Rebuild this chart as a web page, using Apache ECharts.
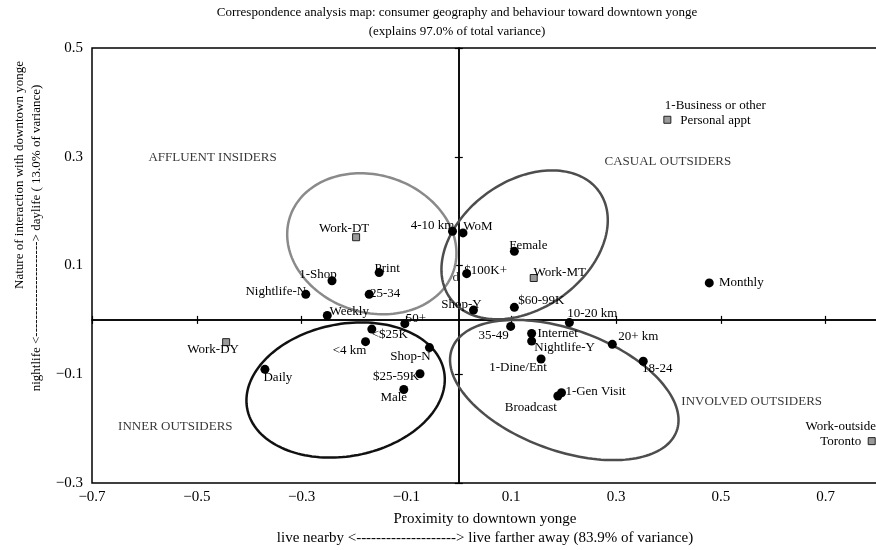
<!DOCTYPE html>
<html>
<head>
<meta charset="utf-8">
<script src="https://cdn.jsdelivr.net/npm/echarts@6/dist/echarts.min.js"></script>
<style>
  html, body { margin: 0; padding: 0; background: #fff; }
  #chart { width: 876px; height: 550px; }
</style>
</head>
<body>
<div id="chart"></div>
<script>
// categories shown as black dots
const dotNames = ['Print', '1-Shop', 'Nightlife-N', '25-34', 'Weekly', '50+', '<$25K', '<4 km',
  'Shop-N', '$25-59K', 'Male', 'Daily', '4-10 km', 'WoM', 'Female', '$100K+', 'Shop-Y',
  '$60-99K', '10-20 km', '35-49', 'Internet', 'Nightlife-Y', '1-Dine/Ent', '20+ km', '18-24',
  '1-Gen Visit', 'Broadcast', 'Monthly'];
const dotX = [-0.152, -0.242, -0.292, -0.171, -0.251, -0.103, -0.166, -0.178,
  -0.056, -0.074, -0.105, -0.370, -0.012, 0.008, 0.106, 0.015, 0.028,
  0.106, 0.211, 0.099, 0.139, 0.139, 0.157, 0.293, 0.352,
  0.196, 0.189, 0.478];
const dotY = [0.087, 0.072, 0.047, 0.047, 0.008, -0.007, -0.017, -0.040,
  -0.051, -0.099, -0.128, -0.091, 0.163, 0.160, 0.126, 0.085, 0.018,
  0.023, -0.005, -0.012, -0.025, -0.039, -0.072, -0.045, -0.076,
  -0.134, -0.140, 0.068];

// place-of-work categories, grey squares
const squareNames = ['Work-DT', 'Work-MT', 'Work-DY', '1-Business or other\nPersonal appt', 'Work-outside\nToronto'];
const squareX = [-0.196, 0.143, -0.444, 0.398, 0.788];
const squareY = [0.152, 0.077, -0.041, 0.368, -0.223];

// segment names and where they sit
const groupNames = ['AFFLUENT INSIDERS', 'CASUAL OUTSIDERS', 'INNER OUTSIDERS', 'INVOLVED OUTSIDERS', 'd'];
const groupX = [-0.470, 0.399, -0.541, 0.559, -0.006];
const groupY = [0.298, 0.292, -0.196, -0.150, 0.077];

// segment ellipses: centre, semi axes (axis units), tilt in degrees
const ellipseX = [-0.166, 0.1256, -0.216, 0.2013];
const ellipseY = [0.140, 0.138, -0.129, -0.129];
const ellipseRx = [0.1644, 0.1748, 0.1912, 0.2283];
const ellipseRy = [0.1262, 0.1173, 0.1215, 0.1112];
const ellipseTilt = [18, -35.7, -10.85, 20.1];

const xTickLabels = ['\u22120.7', '\u22120.5', '\u22120.3', '\u22120.1', '0.1', '0.3', '0.5', '0.7'];
const yTickLabels = ['\u22120.3', '\u22120.1', '0.1', '0.3', '0.5'];

// label placement
const dotLabelOffset = [[8, -4], [-14, -6], [-30, -3], [16, -1], [22, -4], [11, -5], [18, 5], [-16, 9],
  [-19, 9], [-24, 3], [-10, 8], [13, 8], [-20, -6], [15, -6], [14, -6], [19, -3], [-12, -6],
  [27, -7], [23, -9], [-17, 9], [26, 0], [33, 6], [-23, 9], [26, -8], [14, 7],
  [34, -1], [-27, 12], [32, 0]];
const squareLabelOffset = [[-12, -9], [26, -5], [-13, 7], [48, -7], [-31, -7]];
const ellipseColors = ['#8a8a8a', '#4d4d4d', '#111111', '#4d4d4d'];

const FONT = "'Liberation Serif', 'DejaVu Serif', serif";

function tickFmt(labels, min) {
  return function (v) {
    const i = Math.round((v - min) / 0.2);
    if (Math.abs(min + i * 0.2 - v) > 1e-6) return '';
    return labels[i] || '';
  };
}

const chart = echarts.init(document.getElementById('chart'));

const zeroAxisX = (pos) => ({
  type: 'value', min: -0.7, max: 0.8, interval: 0.2, position: pos,
  axisLine: { show: true, onZero: true, onZeroAxisIndex: 0, lineStyle: { color: '#000', width: 1.5 } },
  axisTick: { show: true, length: 4, lineStyle: { color: '#000', width: 1.2 } },
  axisLabel: { show: false },
  splitLine: { show: false }
});
const zeroAxisY = (pos) => ({
  type: 'value', min: -0.3, max: 0.5, interval: 0.2, position: pos,
  axisLine: { show: true, onZero: true, onZeroAxisIndex: 0, lineStyle: { color: '#000', width: 1.5 } },
  axisTick: { show: true, length: 4, lineStyle: { color: '#000', width: 1.2 } },
  axisLabel: { show: false },
  splitLine: { show: false }
});

const nameStyle = { fontFamily: FONT, fontSize: 13, fill: '#000', align: 'center', verticalAlign: 'middle' };

chart.setOption({
  animation: false,
  backgroundColor: '#fff',
  title: {
    text: 'Correspondence analysis map: consumer geography and behaviour toward downtown yonge\n(explains 97.0% of total variance)',
    left: 457,
    top: 3,
    padding: 0,
    textAlign: 'center',
    textStyle: { fontFamily: FONT, fontSize: 13, fontWeight: 'normal', color: '#000', lineHeight: 19 }
  },
  // vertical axis title, two separately centred lines
  graphic: [
    { type: 'text', x: 20, y: 175, rotation: Math.PI / 2,
      style: Object.assign({ text: 'Nature of interaction with downtown yonge' }, nameStyle) },
    { type: 'text', x: 37, y: 238, rotation: Math.PI / 2,
      style: Object.assign({ text: 'nightlife <----------------------> daylife ( 13.0% of variance)' }, nameStyle) }
  ],
  grid: {
    left: 92, right: -2, top: 48, bottom: 67,
    show: true, borderColor: '#000', borderWidth: 1.5,
    outerBoundsMode: 'none'
  },
  xAxis: [
    {
      type: 'value', min: -0.7, max: 0.8, interval: 0.2, position: 'bottom',
      axisLine: { show: false, onZero: false },
      axisTick: { show: false },
      splitLine: { show: false },
      axisLabel: { formatter: tickFmt(xTickLabels, -0.7), fontFamily: FONT, fontSize: 15, color: '#000', margin: 7 },
      name: 'Proximity to downtown yonge\nlive nearby <--------------------> live farther away (83.9% of variance)',
      nameLocation: 'middle',
      nameGap: 17,
      nameTextStyle: { fontFamily: FONT, fontSize: 15, color: '#000', lineHeight: 19 }
    },
    zeroAxisX('top'),
    zeroAxisX('bottom')
  ],
  yAxis: [
    {
      type: 'value', min: -0.3, max: 0.5, interval: 0.2, position: 'left',
      axisLine: { show: false, onZero: false },
      axisTick: { show: false },
      splitLine: { show: false },
      axisLabel: { formatter: tickFmt(yTickLabels, -0.3), fontFamily: FONT, fontSize: 15, color: '#000', margin: 9 }
    },
    zeroAxisY('left'),
    zeroAxisY('right')
  ],
  series: [
    {
      type: 'custom',
      z: 1,
      silent: true,
      clip: false,
      encode: { x: 0, y: 1 },
      data: ellipseX.map((x, i) => [x, ellipseY[i], ellipseRx[i], ellipseRy[i], ellipseTilt[i]]),
      renderItem: function (params, api) {
        const c = api.coord([api.value(0), api.value(1)]);
        const s = api.size([api.value(2), api.value(3)]);
        const t = api.value(4) * Math.PI / 180;
        const pts = [];
        for (let k = 0; k <= 160; k++) {
          const a = k / 160 * Math.PI * 2;
          const ex = s[0] * Math.cos(a), ey = s[1] * Math.sin(a);
          pts.push([c[0] + ex * Math.cos(t) - ey * Math.sin(t), c[1] + ex * Math.sin(t) + ey * Math.cos(t)]);
        }
        return {
          type: 'polyline',
          shape: { points: pts },
          style: { fill: null, stroke: ellipseColors[params.dataIndex], lineWidth: 2.5 }
        };
      }
    },
    {
      type: 'scatter',
      z: 3,
      symbol: 'circle',
      symbolSize: 9,
      itemStyle: { color: '#000', opacity: 1 },
      label: {
        show: true, position: 'inside', formatter: '{b}',
        fontFamily: FONT, fontSize: 13, color: '#000'
      },
      data: dotNames.map((n, i) => ({
        name: n, value: [dotX[i], dotY[i]],
        label: { offset: dotLabelOffset[i] }
      }))
    },
    {
      type: 'scatter',
      z: 3,
      symbol: 'rect',
      symbolSize: 7,
      itemStyle: { color: '#9a9a9a', borderColor: '#222', borderWidth: 1, opacity: 1 },
      label: {
        show: true, position: 'inside', formatter: '{b}', align: 'center',
        fontFamily: FONT, fontSize: 13, color: '#000', lineHeight: 15
      },
      data: squareNames.map((n, i) => ({
        name: n, value: [squareX[i], squareY[i]],
        label: { offset: squareLabelOffset[i] }
      }))
    },
    {
      type: 'scatter',
      z: 2,
      symbolSize: 0,
      label: {
        show: true, position: 'inside', formatter: '{b}',
        fontFamily: FONT, fontSize: 13, color: '#000'
      },
      data: groupNames.map((n, i) => ({ name: n, value: [groupX[i], groupY[i]] }))
    }
  ]
});
</script>
</body>
</html>
